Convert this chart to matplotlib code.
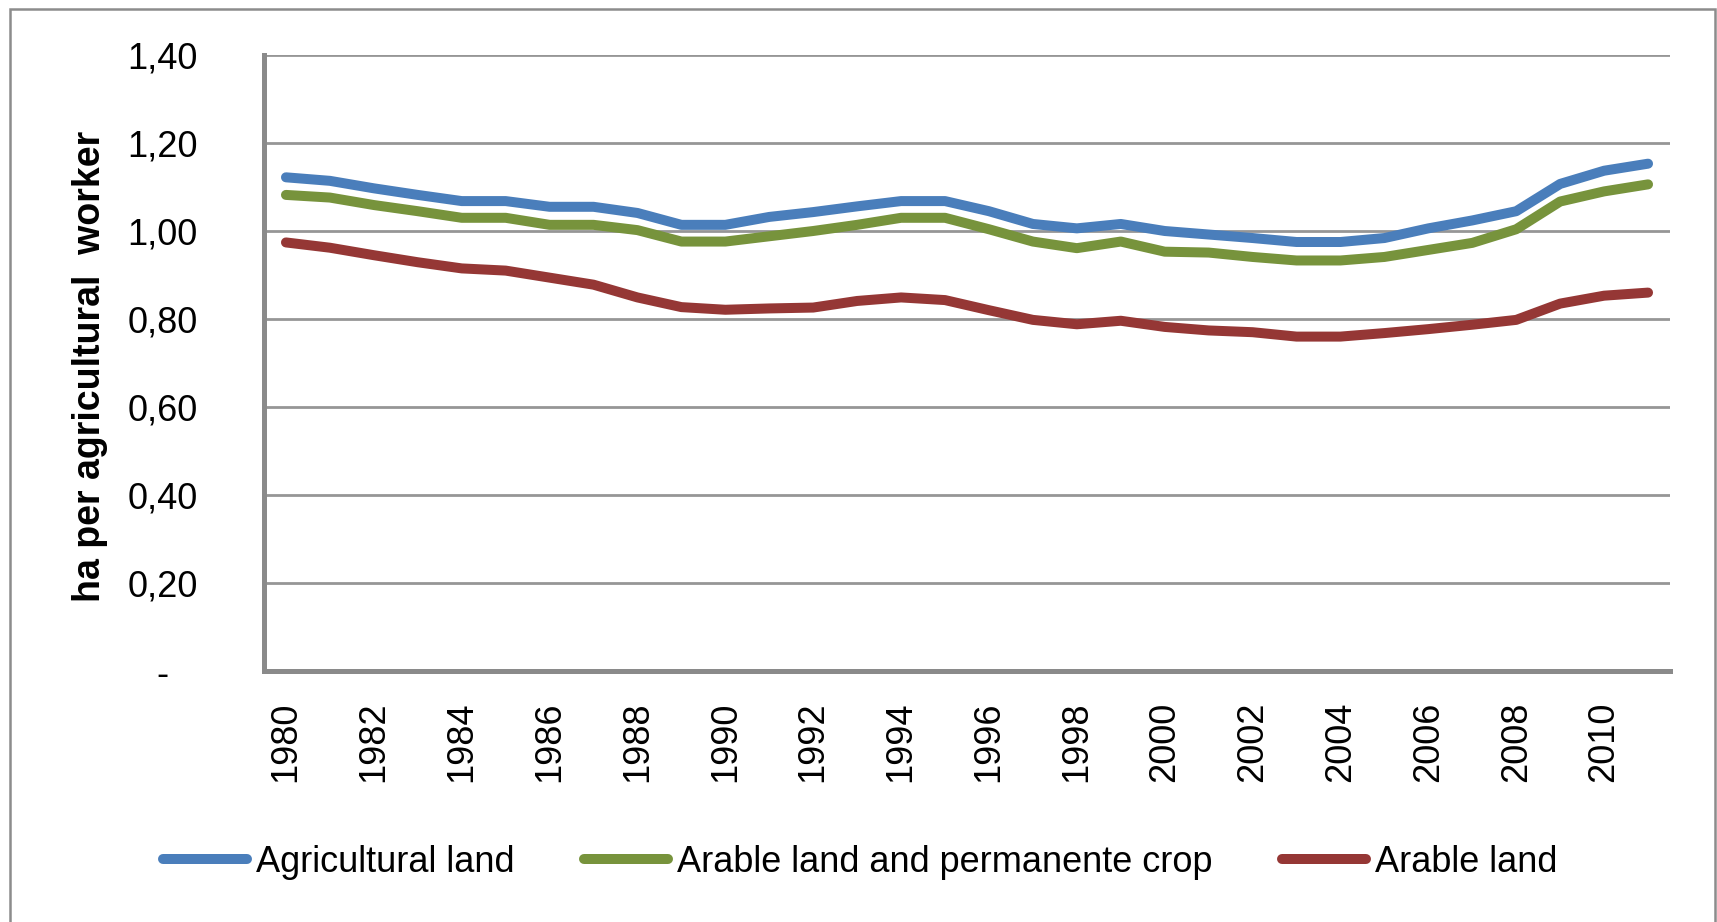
import matplotlib.pyplot as plt
from matplotlib.patches import Rectangle

years = list(range(1980, 2012))

# ha per agricultural worker
agricultural = [1.122, 1.114, 1.097, 1.082, 1.068, 1.068, 1.055, 1.055, 1.041, 1.014,
                1.014, 1.032, 1.043, 1.056, 1.068, 1.068, 1.045, 1.016, 1.006, 1.016,
                1.000, 0.992, 0.984, 0.975, 0.975, 0.984, 1.006, 1.024, 1.045, 1.107,
                1.137, 1.153]
arable_perm = [1.082, 1.076, 1.059, 1.045, 1.030, 1.030, 1.014, 1.014, 1.002, 0.976,
               0.976, 0.988, 1.000, 1.014, 1.030, 1.030, 1.004, 0.976, 0.961, 0.976,
               0.953, 0.951, 0.941, 0.933, 0.933, 0.941, 0.957, 0.973, 1.004, 1.067,
               1.090, 1.106]
arable = [0.974, 0.962, 0.945, 0.929, 0.915, 0.910, 0.894, 0.878, 0.849, 0.827,
          0.821, 0.824, 0.826, 0.841, 0.849, 0.843, 0.820, 0.798, 0.788, 0.796,
          0.782, 0.774, 0.770, 0.760, 0.760, 0.768, 0.777, 0.787, 0.798, 0.835,
          0.853, 0.860]

labels = ['Agricultural land', 'Arable land and permanente crop', 'Arable land']
colors = ['#4a7ebb', '#77933c', '#953735']
yticks = [0, 0.2, 0.4, 0.6, 0.8, 1.0, 1.2, 1.4]
ytick_labels = ['-', '0,20', '0,40', '0,60', '0,80', '1,00', '1,20', '1,40']

plt.rcParams['font.family'] = ['Liberation Sans', 'DejaVu Sans']

fig = plt.figure(figsize=(17.17, 9.22), dpi=100)
ax = fig.add_axes([0.15376, 0.27223, 0.81887, 0.66812])

# outer chart frame
fig.patches.append(Rectangle((10 / 1717, -0.1), 1705 / 1717, 1.1 - 9 / 922,
                             transform=fig.transFigure, fill=False,
                             edgecolor='#8c8c8c', linewidth=1.8))

x = list(range(len(years)))
for series, lab, col in zip([agricultural, arable_perm, arable], labels, colors):
    ax.plot(x, series, color=col, linewidth=7.2, label=lab,
            solid_capstyle='round', solid_joinstyle='round')

ax.set_xlim(-0.5, len(years) - 0.5)
ax.set_ylim(0, 1.4)
ax.set_yticks(yticks)
ax.set_yticklabels(ytick_labels)
ax.set_xticks(x[::2])
ax.set_xticklabels([str(y) for y in years[::2]], rotation=90)

ax.grid(axis='y', color='#969696', linewidth=2.0)
ax.set_axisbelow(True)
for side in ['top', 'right']:
    ax.spines[side].set_visible(False)
for side in ['left', 'bottom']:
    ax.spines[side].set_color('#8a8a8a')
    ax.spines[side].set_linewidth(3.6)

ax.tick_params(axis='y', length=0, pad=73, labelsize=26)
ax.tick_params(axis='x', length=0, pad=22, labelsize=26)
for t in ax.get_yticklabels():
    t.set_horizontalalignment('center')

fig.text(90 / 1717, 1 - 366 / 922, 'ha per agricultural  worker', rotation=90,
         ha='center', va='center', fontsize=27, fontweight='bold')

fig.legend(loc='center', bbox_to_anchor=(0.501, 0.065), ncol=3, frameon=False,
           fontsize=26, handlelength=2.3, handletextpad=0.25, columnspacing=1.95)

fig.savefig('out.png', dpi=100)
